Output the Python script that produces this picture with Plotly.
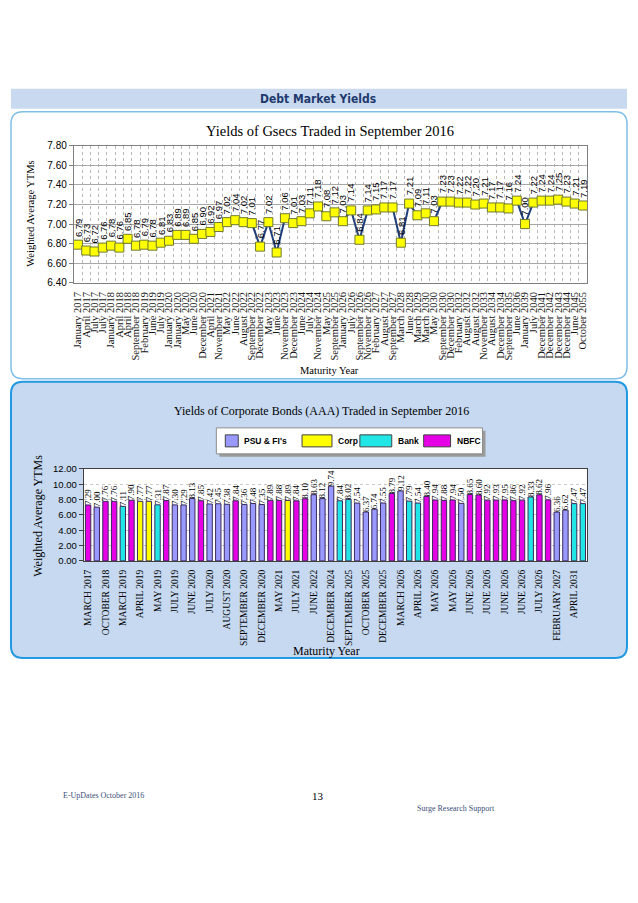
import plotly.graph_objects as go

# page placement: figure sits inside the body margin; the captured page is
# slightly compressed vertically, so page y positions are rescaled by SY
OX, OY, SY = 8, 13.4, 1 / 0.987
W, H = 622, 860

# ---------------- data ----------------
gsec_maturity = [
    "January 2017", "April 2017", "July 2017", "July 2017", "January 2018", "April 2018",
    "April 2018", "September 2018", "February 2019", "June 2019", "July 2019", "January 2020",
    "January 2020", "May 2020", "June 2020", "December 2020", "April 2021", "November 2021",
    "May 2022", "June 2022", "August 2022", "September 2022", "December 2022", "May 2023",
    "June 2023", "November 2023", "December 2023", "June 2024", "July 2024", "November 2024",
    "May 2025", "September 2025", "January 2026", "July 2026", "September 2026", "November 2026",
    "February 2027", "August 2027", "September 2027", "March 2028", "June 2028", "March 2029",
    "March 2030", "May 2030", "September 2030", "December 2030", "February 2032", "August 2032",
    "August 2032", "November 2033", "August 2034", "December 2034", "September 2035", "June 2036",
    "January 2039", "July 2040", "December 2041", "December 2042", "December 2043", "December 2044",
    "June 2045", "October 2055",
]
gsec_ytm = [
    6.79, 6.73, 6.72, 6.76, 6.78, 6.76, 6.85, 6.78, 6.79, 6.78, 6.81, 6.83, 6.89, 6.89, 6.85,
    6.90, 6.92, 6.97, 7.02, 7.04, 7.02, 7.01, 6.77, 7.02, 6.71, 7.06, 7.01, 7.03, 7.11, 7.18,
    7.08, 7.12, 7.03, 7.14, 6.84, 7.14, 7.15, 7.17, 7.17, 6.81, 7.21, 7.09, 7.11, 7.03, 7.23,
    7.23, 7.22, 7.22, 7.20, 7.21, 7.17, 7.17, 7.16, 7.24, 7.00, 7.22, 7.24, 7.24, 7.25, 7.23,
    7.21, 7.19,
]

# corporate bonds: tick labels shown under every second bar
corp_tick_labels = [
    "MARCH 2017", "OCTOBER 2018", "MARCH 2019", "APRIL 2019", "MAY 2019", "JULY 2019",
    "JUNE 2020", "JULY 2020", "AUGUST 2020", "SEPTEMBER 2020", "DECEMBER 2020", "MAY 2021",
    "JULY 2021", "JUNE 2022", "DECEMBER 2024", "SEPTEMBER 2025", "OCTOBER 2025",
    "DECEMBER 2025", "MARCH 2026", "APRIL 2026", "MAY 2026", "MAY 2026", "JUNE 2026",
    "JUNE 2026", "JUNE 2026", "JUNE 2026", "JULY 2026", "FEBRUARY 2027", "APRIL 2031",
]
corp_ytm = [
    7.29, 7.00, 7.76, 7.76, 7.11, 7.90, 7.77, 7.77, 7.31, 7.87, 7.30, 7.29, 8.13, 7.85, 7.42,
    7.45, 7.38, 7.84, 7.36, 7.48, 7.35, 7.89, 7.88, 7.89, 7.84, 8.10, 8.63, 8.12, 9.74, 7.84,
    8.02, 7.54, 6.37, 6.74, 7.55, 8.79, 9.12, 7.79, 7.54, 8.40, 7.94, 7.88, 7.94, 7.50, 8.65,
    8.60, 7.92, 7.93, 7.95, 7.86, 7.92, 8.33, 8.62, 7.96, 6.36, 6.62, 7.47, 7.47,
]
corp_issuer = [
    "NBFC", "PSU", "NBFC", "NBFC", "Bank", "NBFC", "Corp", "Corp", "Bank", "NBFC",
    "PSU", "PSU", "PSU", "NBFC", "PSU", "PSU", "PSU", "NBFC", "PSU", "PSU",
    "PSU", "NBFC", "NBFC", "Corp", "NBFC", "NBFC", "PSU", "PSU", "PSU", "Bank",
    "Bank", "PSU", "PSU", "PSU", "PSU", "NBFC", "PSU", "Bank", "Bank", "NBFC",
    "NBFC", "NBFC", "NBFC", "PSU", "NBFC", "NBFC", "NBFC", "NBFC", "NBFC", "NBFC",
    "NBFC", "Bank", "NBFC", "NBFC", "PSU", "PSU", "Bank", "Bank",
]
issuer_names = ["PSU", "Corp", "Bank", "NBFC"]
issuer_legend = ["PSU & FI's", "Corp", "Bank", "NBFC"]
issuer_colors = {"PSU": "#9999ff", "Corp": "#ffff00", "Bank": "#22e6e6", "NBFC": "#e600e6"}

SERIF = "Liberation Serif, Times New Roman, serif"
SANS = "Liberation Sans, Arial, sans-serif"


def fx(x):
    return (x - OX) / W


def fy(y):
    return 1 - (y * SY - OY) / H


def rrect(x0, y0, x1, y1, r):
    def p(x, y):
        return f"{fx(x):.5f},{fy(y):.5f}"
    return (f"M {p(x0 + r, y0)} L {p(x1 - r, y0)} Q {p(x1, y0)} {p(x1, y0 + r)} "
            f"L {p(x1, y1 - r)} Q {p(x1, y1)} {p(x1 - r, y1)} L {p(x0 + r, y1)} "
            f"Q {p(x0, y1)} {p(x0, y1 - r)} L {p(x0, y0 + r)} Q {p(x0, y0)} {p(x0 + r, y0)} Z")


fig = go.Figure()

# ---------------- top: Gsecs line ----------------
n_g = len(gsec_ytm)
xg = list(range(n_g))
fig.add_trace(go.Scatter(
    x=xg, y=gsec_ytm, mode="lines+markers",
    line=dict(color="#1f3f7a", width=2),
    marker=dict(symbol="square", size=9, color="#ffff00",
                line=dict(color="#6f7a30", width=1)),
    xaxis="x", yaxis="y", showlegend=False, cliponaxis=False,
    hovertemplate="%{y:.2f}<extra></extra>",
))

annotations = []
for i, v in enumerate(gsec_ytm):
    annotations.append(dict(
        x=i, y=v, xref="x", yref="y", text=f"{v:.2f}", textangle=-90,
        showarrow=False, xanchor="center", yanchor="bottom", yshift=6,
        font=dict(family=SANS, size=9.5, color="#000000"),
    ))

# ---------------- bottom: corporate bars ----------------
n_c = len(corp_ytm)
for name in issuer_names:
    idx = [i for i in range(n_c) if corp_issuer[i] == name]
    fig.add_trace(go.Bar(
        x=idx, y=[corp_ytm[i] for i in idx],
        text=[f"{corp_ytm[i]:.2f}" for i in idx],
        textposition="outside", textangle=-90, constraintext="none",
        textfont=dict(family=SERIF, size=9, color="#000000"),
        marker=dict(color=issuer_colors[name], line=dict(color="#3a2a5a", width=1)),
        width=0.62, xaxis="x2", yaxis="y2", showlegend=False, cliponaxis=False,
        name=name,
    ))

# ---------------- layout pieces ----------------
shapes = [
    # heading band
    dict(type="rect", xref="paper", yref="paper", x0=fx(10), x1=fx(628), y0=fy(108), y1=fy(88),
         fillcolor="#c9daf0", line=dict(width=0), layer="below"),
    # top panel
    dict(type="path", xref="paper", yref="paper", path=rrect(10, 111, 628, 378, 12),
         fillcolor="#ffffff", line=dict(color="#7fbfe6", width=1.5), layer="below"),
    # bottom panel
    dict(type="path", xref="paper", yref="paper", path=rrect(10, 381, 628, 657, 12),
         fillcolor="#c6d9f1", line=dict(color="#2299e0", width=2), layer="below"),
    # bottom plot area white
    dict(type="rect", xref="x2 domain", yref="y2 domain", x0=0, x1=1, y0=0, y1=1,
         fillcolor="#ffffff", line=dict(width=0), layer="below"),
    # legend shadow + box
    dict(type="rect", xref="paper", yref="paper", x0=fx(219), x1=fx(486), y0=fy(456), y1=fy(430),
         fillcolor="#9a9a9a", line=dict(width=0)),
    dict(type="rect", xref="paper", yref="paper", x0=fx(216), x1=fx(483), y0=fy(453), y1=fy(427),
         fillcolor="#ffffff", line=dict(color="#8c8c8c", width=1)),
]

legend_swatch_x = [(225, 238), (302, 332), (360, 392), (424, 451)]
legend_text_x = [242, 336, 396, 455]
for k, name in enumerate(issuer_names):
    sx0, sx1 = legend_swatch_x[k]
    shapes.append(dict(type="rect", xref="paper", yref="paper", x0=fx(sx0), x1=fx(sx1),
                       y0=fy(446), y1=fy(434), fillcolor=issuer_colors[name],
                       line=dict(color="#404040", width=1)))
    annotations.append(dict(x=fx(legend_text_x[k]), y=fy(440), xref="paper", yref="paper",
                            text=f"<b>{issuer_legend[k]}</b>", showarrow=False,
                            xanchor="left", yanchor="middle",
                            font=dict(family=SANS, size=8.5, color="#000000")))

texts = [
    ("<b>Debt Market Yields</b>", 318, 98, 12,
     "Liberation Sans Narrow, DejaVu Sans Condensed, Arial Narrow, sans-serif", "#1f3a6e", 0, "center"),
    ("Yields of Gsecs Traded in September 2016", 330, 130, 14.5, SERIF, "#000000", 0, "center"),
    ("Weighted Average YTMs", 30, 213, 10.5, SERIF, "#000000", -90, "center"),
    ("Maturity Year", 330, 370, 10.5, SERIF, "#000000", 0, "center"),
    ("Yields of Corporate Bonds (AAA) Traded in September 2016", 322, 410, 12, SERIF, "#000000", 0, "center"),
    ("Weighted Average YTMs", 37, 515, 12, SERIF, "#000000", -90, "center"),
    ("Maturity Year", 327, 650, 12, SERIF, "#000000", 0, "center"),
    ("E-UpDates October 2016", 60, 795, 8, SERIF, "#3c4f7a", 0, "left"),
    ("13", 318, 795, 11, SERIF, "#000000", 0, "center"),
    ("Surge Research Support", 415, 808, 8, SERIF, "#3c4f7a", 0, "left"),
]
for t, x, y, s, fam, col, ang, xa in texts:
    annotations.append(dict(x=fx(x), y=fy(y), xref="paper", yref="paper", text=t,
                            showarrow=False, xanchor=xa, yanchor="middle", textangle=ang,
                            font=dict(family=fam, size=s, color=col)))

fig.update_layout(
    width=W, height=H, margin=dict(l=0, r=0, t=0, b=0),
    paper_bgcolor="#ffffff", plot_bgcolor="#dbeef4",
    showlegend=False, barmode="overlay",
    shapes=shapes, annotations=annotations,
    xaxis=dict(
        domain=[fx(73), fx(588)], anchor="y", range=[-0.5, n_g - 0.5],
        tickmode="array", tickvals=xg, ticktext=gsec_maturity, tickangle=-90,
        tickfont=dict(family=SERIF, size=10.5, color="#111111"),
        showgrid=False, zeroline=False, showline=True, mirror=True,
        linecolor="#808080", linewidth=1, ticks="outside", ticklen=4,
        tickcolor="rgba(0,0,0,0)",
        minor=dict(tickmode="array", tickvals=[i + 0.5 for i in range(n_g - 1)],
                   showgrid=True, gridcolor="#b8b8b8", griddash="dot", gridwidth=1),
    ),
    yaxis=dict(
        domain=[fy(282), fy(145)], anchor="x", range=[6.4, 7.8], dtick=0.2, tick0=6.4,
        tickformat=".2f", tickfont=dict(family=SANS, size=10, color="#000000"),
        showgrid=True, gridcolor="#a8a8a8", gridwidth=1, zeroline=False,
        showline=True, mirror=True, linecolor="#808080", ticks="outside", ticklen=4,
        tickcolor="#808080",
    ),
    xaxis2=dict(
        domain=[fx(83), fx(588)], anchor="y2", range=[-0.5, n_c - 0.5],
        tickmode="array", tickvals=list(range(0, n_c, 2)), ticktext=corp_tick_labels,
        tickangle=-90, tickfont=dict(family=SERIF, size=9.5, color="#000000"),
        showgrid=False, zeroline=False, showline=True, mirror=True,
        linecolor="#404040", ticks="outside", ticklen=4, tickcolor="rgba(0,0,0,0)",
    ),
    yaxis2=dict(
        domain=[fy(560), fy(468)], anchor="x2", range=[0, 12], dtick=2, tick0=0,
        tickformat=".2f", tickfont=dict(family=SANS, size=9.5, color="#000000"),
        showgrid=True, gridcolor="#c8c8c8", griddash="dot", zeroline=False,
        showline=True, mirror=True, linecolor="#404040", ticks="outside", ticklen=4,
        tickcolor="#404040",
    ),
)

fig.write_html("out.html")
